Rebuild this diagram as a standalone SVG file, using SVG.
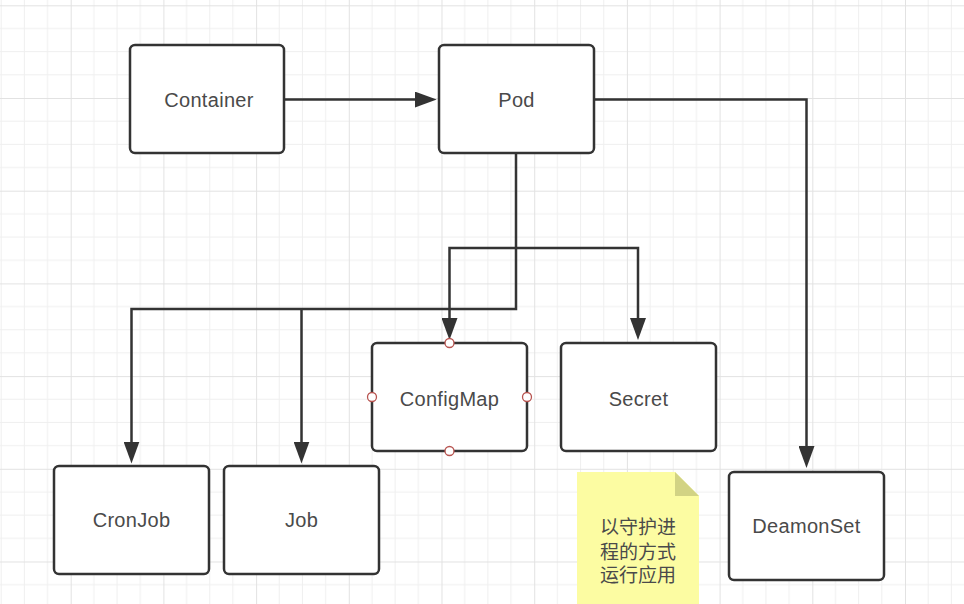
<svg xmlns="http://www.w3.org/2000/svg" width="964" height="604" viewBox="0 0 964 604">
<style>
.box{fill:#ffffff;stroke:#333333;stroke-width:2.5}
.lbl{font-family:"Liberation Sans",Arial,sans-serif;font-size:20px;fill:#4a4a4a;text-anchor:middle;letter-spacing:0.3px}
.cjk{font-family:"Liberation Sans","Noto Sans CJK SC",sans-serif;font-size:19px;fill:#4a4a4a;text-anchor:middle}
.conn{fill:none;stroke:#333333;stroke-width:2.5;marker-end:url(#arr)}
.conn2{fill:none;stroke:#333333;stroke-width:2.5}
.port{fill:#ffffff;stroke:#b85450;stroke-width:1.3}
.minor{stroke:#efefef;stroke-width:1}
.major{stroke:#e2e2e2;stroke-width:1}
</style>
<defs>
<marker id="arr" markerUnits="userSpaceOnUse" markerWidth="22" markerHeight="16" viewBox="0 0 22 16" refX="10" refY="8" orient="auto">
<path d="M0,0 L22,8 L0,16 Z" fill="#333333"/>
</marker>
<pattern id="grid" patternUnits="userSpaceOnUse" x="70.7" y="5.3" width="92.7" height="92.7">
<line class="minor" x1="23.175" y1="0" x2="23.175" y2="92.7"/>
<line class="minor" x1="46.35" y1="0" x2="46.35" y2="92.7"/>
<line class="minor" x1="69.525" y1="0" x2="69.525" y2="92.7"/>
<line class="minor" x1="0" y1="23.175" x2="92.7" y2="23.175"/>
<line class="minor" x1="0" y1="46.35" x2="92.7" y2="46.35"/>
<line class="minor" x1="0" y1="69.525" x2="92.7" y2="69.525"/>
<line class="major" x1="0.5" y1="0" x2="0.5" y2="92.7"/>
<line class="major" x1="0" y1="0.5" x2="92.7" y2="0.5"/>
</pattern>
</defs>
<rect x="0" y="0" width="964" height="604" fill="#ffffff"/>
<rect x="0" y="0" width="964" height="604" fill="url(#grid)"/>

<g id="connectors">
<path class="conn" d="M285,99.5 H424.7"/>
<path class="conn" d="M594,99.5 H806.5 V456"/>
<path class="conn" d="M516,153 V309 H131.5 V451.5"/>
<path class="conn" d="M301.5,309 V451.5"/>
<path class="conn" d="M516,248 H449.5 V328"/>
<path class="conn" d="M516,248 H638 V328"/>
</g>

<g id="container">
<rect class="box" x="130" y="45" width="154" height="108" rx="5"/>
<text class="lbl" x="209" y="107">Container</text>
</g>
<g id="pod">
<rect class="box" x="439" y="45" width="155" height="108" rx="5"/>
<text class="lbl" x="516.5" y="107">Pod</text>
</g>
<g id="configmap">
<rect class="box" x="372" y="343" width="155" height="108" rx="5"/>
<text class="lbl" x="449.5" y="405.5">ConfigMap</text>
<circle class="port" cx="449.5" cy="343" r="4.5"/>
<circle class="port" cx="449.5" cy="451" r="4.5"/>
<circle class="port" cx="372" cy="397" r="4.5"/>
<circle class="port" cx="527" cy="397" r="4.5"/>
</g>
<g id="secret">
<rect class="box" x="561" y="343" width="155" height="108" rx="5"/>
<text class="lbl" x="638.5" y="405.5">Secret</text>
</g>
<g id="cronjob">
<rect class="box" x="54" y="466" width="155" height="108" rx="5"/>
<text class="lbl" x="131.5" y="527">CronJob</text>
</g>
<g id="job">
<rect class="box" x="224" y="466" width="155" height="108" rx="5"/>
<text class="lbl" x="301.5" y="527">Job</text>
</g>
<g id="deamonset">
<rect class="box" x="729" y="472" width="155" height="108" rx="5"/>
<text class="lbl" x="806.5" y="533">DeamonSet</text>
</g>
<g id="note">
<path d="M577,472 H675 L699,496 V604 H577 Z" fill="#fcfca2"/>
<path d="M675,472 V496 H699 Z" fill="#d2d384"/>
<text class="cjk" x="638" y="534">以守护进</text>
<text class="cjk" x="638" y="558.5">程的方式</text>
<text class="cjk" x="638" y="582">运行应用</text>
</g>
</svg>
